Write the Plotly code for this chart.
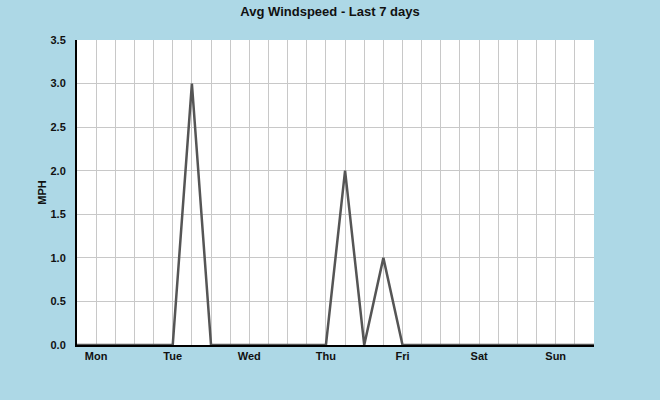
import plotly.graph_objects as go

# six-hour slots over the week, 0..27
slots = list(range(28))
windspeed = [0, 0, 0, 0, 0, 0, 3.0, 0, 0, 0, 0, 0, 0, 0,
             2.0, 0, 1.0, 0, 0, 0, 0, 0, 0, 0, 0, 0, 0, 0]

day_slots = [1, 5, 9, 13, 17, 21, 25]
day_names = ["Mon", "Tue", "Wed", "Thu", "Fri", "Sat", "Sun"]

y_ticks = [0, 0.5, 1.0, 1.5, 2.0, 2.5, 3.0, 3.5]

tick_text = [day_names[day_slots.index(s)] if s in day_slots else "" for s in slots]

fig = go.Figure()
fig.add_trace(go.Scatter(
    x=slots, y=windspeed, mode="lines",
    line=dict(color="#555555", width=2.5),
    hoverinfo="skip", showlegend=False,
))

fig.update_layout(
    width=660, height=400,
    paper_bgcolor="#ADD8E6",
    plot_bgcolor="white",
    margin=dict(l=77, r=66, t=40, b=55),
    font=dict(family="Liberation Sans, Arial, sans-serif", color="#111"),
    title=dict(
        text="<b>Avg Windspeed - Last 7 days</b>",
        x=0.5, xanchor="center", y=0.972, yanchor="middle",
        font=dict(size=13, color="#111"),
    ),
)

fig.update_xaxes(
    range=[0, 27],
    tickvals=slots, ticktext=tick_text,
    tickfont=dict(size=11, family="Liberation Sans, Arial, sans-serif", weight="bold"),
    showgrid=True, gridcolor="#C8C8C8", gridwidth=1,
    showline=True, linecolor="black", linewidth=2,
    ticks="", zeroline=False, mirror=False,
)

fig.update_yaxes(
    range=[0, 3.5],
    tickvals=y_ticks, tickformat=".1f",
    tickfont=dict(size=11, family="Liberation Sans, Arial, sans-serif", weight="bold"),
    showgrid=True, gridcolor="#C8C8C8", gridwidth=1,
    showline=True, linecolor="black", linewidth=2,
    ticks="", ticklabelstandoff=7, zeroline=False,
    title=dict(text="<b>MPH</b>", font=dict(size=11), standoff=2),
)

# drop the page's default body margin so the figure sits at 0,0
fig.write_html("out.html",
               config={"displayModeBar": False},
               post_script="document.body.style.margin='0';document.body.style.overflow='hidden';")
